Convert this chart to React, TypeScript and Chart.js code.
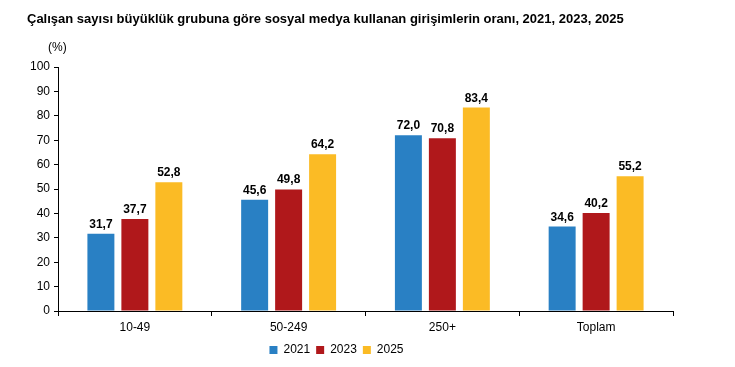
import React, { useEffect, useRef } from "react";
import { Chart, registerables } from "chart.js";

Chart.register(...registerables);

const categories = ["10-49", "50-249", "250+", "Toplam"];
const seriesNames = ["2021", "2023", "2025"];
const values2021 = [31.7, 45.6, 72.0, 34.6];
const values2023 = [37.7, 49.8, 70.8, 40.2];
const values2025 = [52.8, 64.2, 83.4, 55.2];
const colors = ["#2980c4", "#b0181b", "#fbbb25"];
const titleText = "Çalışan sayısı büyüklük grubuna göre sosyal medya kullanan girişimlerin oranı, 2021, 2023, 2025";
const unitText = "(%)";

const NARROW = "'Liberation Sans Narrow', 'Arial Narrow', 'Liberation Sans', Arial, sans-serif";
const SANS = "'Liberation Sans', Arial, sans-serif";

const labelsPlugin = {
  id: "customText",
  afterDraw(chart: any) {
    const ctx = chart.ctx;
    ctx.save();
    ctx.fillStyle = "#000";
    ctx.font = `bold 13px ${SANS}`;
    ctx.textAlign = "left";
    ctx.textBaseline = "alphabetic";
    ctx.fillText(titleText, 27, 23);
    ctx.font = `12px ${NARROW}`;
    ctx.fillText(unitText, 48, 51);
    ctx.font = `bold 12px ${SANS}`;
    ctx.textAlign = "center";
    chart.data.datasets.forEach((ds: any, i: number) => {
      const meta = chart.getDatasetMeta(i);
      meta.data.forEach((el: any, j: number) => {
        const v = ds.data[j];
        ctx.fillText(v.toFixed(1).replace(".", ","), el.x, el.y - 6);
      });
    });
    ctx.restore();
  },
};

export default function App() {
  const ref = useRef<HTMLCanvasElement>(null);
  useEffect(() => {
    document.body.style.margin = "0";
    const all = [values2021, values2023, values2025];
    const chart = new Chart(ref.current!, {
      type: "bar",
      data: {
        labels: categories,
        datasets: seriesNames.map((n, i) => ({
          label: n,
          data: all[i],
          backgroundColor: colors[i],
          borderWidth: 0,
          barPercentage: 0.794,
          categoryPercentage: 0.663,
        })),
      },
      options: {
        responsive: false,
        animation: false,
        layout: { padding: { left: 0, right: 62, top: 67, bottom: 1 } },
        plugins: {
          legend: {
            position: "bottom",
            labels: {
              boxWidth: 8,
              boxHeight: 8,
              padding: 6,
              color: "#000",
              font: { size: 12, family: NARROW },
            },
          },
          tooltip: { enabled: false },
        },
        scales: {
          x: {
            grid: {
              display: true,
              drawOnChartArea: false,
              drawTicks: true,
              tickLength: 5,
              color: "#000",
              offset: true,
            },
            border: { display: true, color: "#000", width: 1 },
            ticks: { color: "#000", font: { size: 12, family: NARROW }, padding: 4 },
            afterFit: (s: any) => {
              s.height = 27;
            },
          },
          y: {
            min: 0,
            max: 100,
            ticks: { stepSize: 10, color: "#000", font: { size: 12, family: NARROW }, padding: 4 },
            grid: { display: true, drawOnChartArea: false, tickLength: 4, color: "#000" },
            border: { display: true, color: "#000", width: 1 },
            afterFit: (s: any) => {
              s.width = 58;
            },
          },
        },
      },
      plugins: [labelsPlugin],
    });
    return () => chart.destroy();
  }, []);
  return <canvas ref={ref} width={735} height={367} style={{ display: "block" }} />;
}
